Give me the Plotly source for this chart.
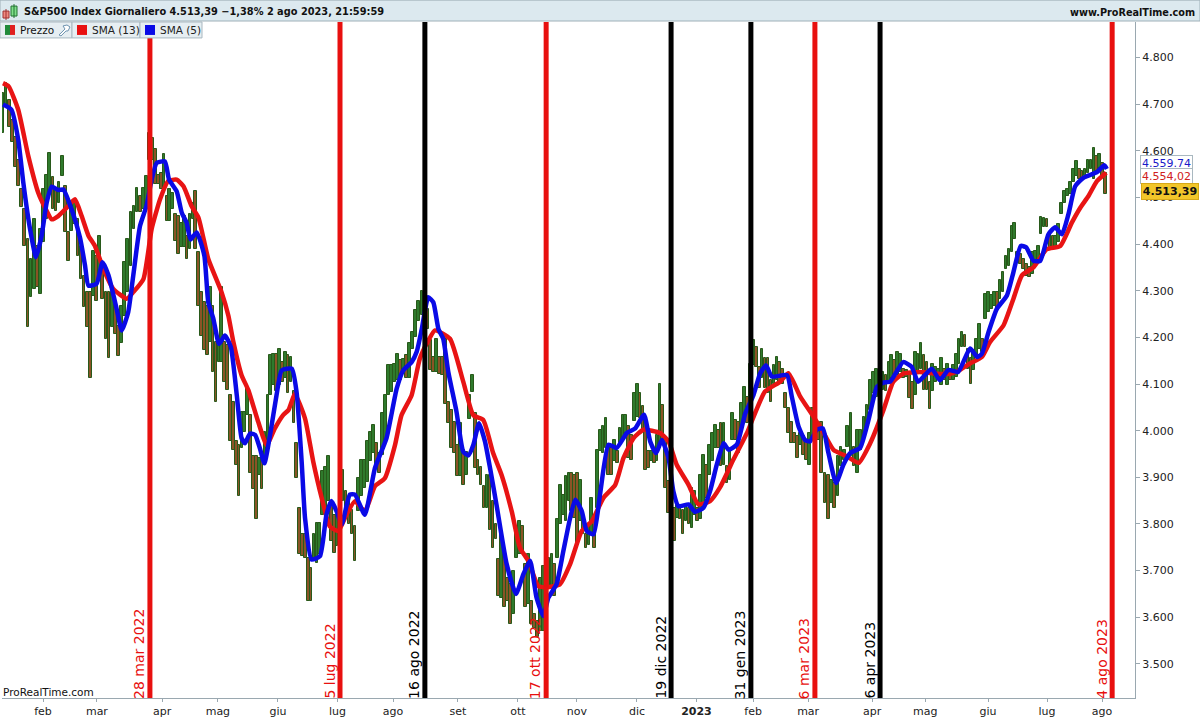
import numpy as np
import plotly.graph_objects as go

# Candle ranges, grouped between the marked dates
HIGH_A = [4724,4745,4709,4667,4630,4581,4517,4475,4411,4368,4453,4396,4432,4517,4549,4596,4543,4517,4532,4588,4524,4426,4489,4489,4453,4396,4332,4297,4297,4385,4374,4417,4353,4297,4297,4297,4268,4225,4268,4361,4411,4468,4481,4521,4502,4521,4545]
LOW_A = [4639,4694,4652,4618,4566,4524,4479,4396,4223,4287,4304,4308,4293,4404,4453,4511,4475,4470,4489,4545,4426,4364,4428,4443,4374,4325,4266,4223,4112,4289,4278,4325,4283,4197,4155,4223,4208,4161,4187,4246,4297,4353,4432,4468,4468,4475,4481]
HIGH_B = [4638,4627,4603,4549,4553,4592,4503,4517,4510,4464,4460,4446,4460,4418,4464,4489,4514,4382,4297,4275,4268,4307,4268,4190,4183,4307,4190,4183,4077,4062,3977,3970,4041,4041,4091,4034,3945,3945,3941,3955,3998,4077,4162,4165,4165,4176,4147,4169,4162,4158,4084,3973,3835,3778,3778,3728,3706,3778,3802,3802,3913,3923,3945,3849,3820,3820]
LOW_B = [4581,4581,4528,4528,4517,4514,4450,4450,4475,4407,4379,4393,4393,4368,4389,4453,4389,4268,4204,4172,4162,4190,4126,4062,4147,4147,4105,4087,3977,3959,3927,3860,3963,3998,4034,3909,3874,3810,3906,3874,3934,3977,4077,4098,4084,4098,4105,4112,4080,4105,4016,3899,3735,3731,3728,3635,3635,3721,3717,3735,3820,3827,3849,3763,3738,3753]
HIGH_C = [3870,3916,3870,3849,3831,3795,3898,3938,3938,3977,3998,4012,3973,3952,4037,4076,4140,4140,4144,4165,4151,4154,4162,4187,4212,4258,4279,4300]
LOW_C = [3799,3849,3820,3799,3778,3720,3827,3860,3877,3891,3934,3952,3927,3909,3948,3977,4076,4083,4105,4108,4108,4126,4112,4112,4176,4201,4236,4247]
HIGH_D = [4300,4261,4194,4158,4197,4158,4158,4197,4062,4044,4019,3970,4016,3959,3955,4076,4119,4037,3938,3923,3881,3905,3905,3849,3799,3724,3778,3735,3685,3671,3699,3792,3806,3795,3714,3735,3635,3607,3593,3685,3710]
LOW_D = [4254,4219,4130,4126,4126,4122,4119,4058,4016,3962,3952,3902,3902,3884,3905,4026,4083,3920,3905,3884,3835,3835,3788,3749,3767,3646,3642,3621,3635,3586,3607,3728,3735,3735,3621,3628,3586,3578,3557,3571,3571]
HIGH_E = [3760,3728,3735,3714,3810,3884,3863,3902,3909,3909,3906,3909,3895,3820,3778,3799,3856,3820,3959,4002,4009,4027,3970,3963,3980,3956,4005,4034,4034,4009,3991,4080,4101,4080,4052,4020,3956,3956,3952,3991,4101,4055,3984,3892]
LOW_E = [3671,3667,3664,3646,3728,3799,3820,3806,3849,3827,3813,3756,3806,3778,3749,3756,3778,3749,3835,3956,3952,3963,3906,3906,3934,3931,3970,3977,3995,3941,3938,4020,4030,4027,3998,3916,3920,3934,3931,3934,3963,3977,3877,3824]
HIGH_F = [3892,3835,3842,3838,3831,3838,3835,3877,3870,3835,3906,3948,3927,3970,3995,4012,4002,4016,4016,3924,3959,4037,4023,4019,4059,4094,4073]
LOW_F = [3792,3764,3813,3810,3778,3806,3799,3792,3820,3806,3810,3842,3856,3906,3934,3963,3963,3924,3927,3888,3895,3980,3980,3952,4002,4023,4016]
HIGH_G = [4144,4194,4180,4137,4176,4155,4155,4108,4140,4158,4148,4133,4080,4048,4019,3995,3988,3995,3988,3980,3995,4048]
LOW_G = [4073,4140,4137,4091,4112,4091,4080,4062,4101,4108,4101,4101,4048,3995,3973,3973,3941,3970,3948,3938,3927,3980]
HIGH_H = [4052,4009,4019,3909,3906,3895,3888,3945,3966,3959,4009,4037,3966,4002,4002,4030,4055,4108,4126,4133]
LOW_H = [3988,3980,3909,3845,3810,3845,3835,3860,3924,3938,3966,3945,3924,3909,3959,3980,4002,4044,4080,4073]
HIGH_I = [4105,4126,4119,4148,4162,4151,4169,4165,4133,4130,4119,4105,4169,4165,4187,4162,4148,4105,4144,4137,4133,4155,4133,4144,4130,4140,4165,4197,4212,4205,4176,4155,4169,4197,4229,4197,4293,4297,4290,4297,4297,4322,4340,4375,4389,4439,4446,4382,4379,4368,4357,4350,4382,4386,4396,4457,4455,4453,4425,4418,4418,4443,4489,4514,4517,4532,4560,4578,4560,4556,4560,4581,4581,4606,4588,4592,4574,4553]
LOW_I = [4091,4087,4084,4105,4112,4116,4119,4126,4112,4116,4069,4047,4076,4126,4133,4087,4087,4047,4084,4105,4109,4098,4109,4098,4109,4109,4116,4144,4180,4180,4133,4101,4130,4162,4176,4169,4240,4254,4261,4268,4261,4283,4297,4347,4354,4382,4411,4361,4357,4347,4332,4329,4336,4364,4368,4421,4436,4436,4389,4389,4393,4404,4464,4489,4503,4507,4532,4546,4539,4539,4546,4553,4560,4539,4556,4564,4546,4507]

SEGMENT_SESSIONS = [0, 52, 119.5, 149.6, 192.6, 237, 265, 288, 311, 392]

SMA5_SESSION = [0,3,5.4,7.2,9.6,11.7,13.7,15.5,17.3,19.6,21.4,24.3,27.3,29.1,30.3,33.2,35.3,37.4,40.3,42.1,44.4,46.2,48.6,50.9,52.7,54.5,57.4,58.9,61.6,63.4,65.1,66.5,68.7,71.4,72.8,74.6,76.6,78.7,80.8,82.9,84.6,85.8,87.6,89.4,91.1,92.7,94.7,97,98.8,102.4,104.1,105.9,107.1,109.4,112.4,114.7,116.5,118.3,120.1,123,124.8,128.3,131.9,136,139.6,141.9,144.9,146.7,148.5,150.8,152.6,154.4,156.1,157.9,160.8,163.2,165,166.8,168.8,170.9,172.7,175,178.6,181.9,184.5,186.9,189.2,191.6,193.4,196.3,198.7,201.1,202.9,205.2,207,209.4,211.7,214.7,217.6,221.2,224.2,227.3,229.5,231.6,233.6,236,237.7,239.5,243.1,245.4,248.4,250.7,253.1,255.5,257.3,260.2,263.2,266.1,268.5,270.6,272.6,278,279.7,282.1,284.4,286.2,288.6,290.7,292.7,295.4,298,300.4,303.9,306.9,309.9,312.2,314.6,319.2,322.2,324.5,329.3,332.2,335.2,338.7,342.9,345.5,347.1,349.5,352.4,356,358.3,360.9,362.8,365.4,367.8,370.7,373.1,375.5,377.8,380.2,383.1,387.9,390.5,391.4]
SMA5_PRICE = [4699,4688,4624,4532,4432,4372,4418,4489,4523,4516,4517,4475,4414,4354,4311,4315,4361,4333,4261,4215,4254,4333,4439,4482,4538,4574,4577,4538,4513,4467,4446,4410,4425,4375,4275,4240,4186,4204,4179,4076,3984,3973,3994,3991,3962,3930,3991,4076,4129,4133,4083,3934,3813,3724,3731,3820,3849,3827,3799,3863,3863,3820,3920,3984,4090,4129,4147,4169,4218,4286,4275,4218,4197,4126,4041,3955,3947,3970,4016,3977,3920,3841,3714,3650,3692,3721,3642,3603,3642,3671,3742,3813,3852,3828,3785,3778,3863,3970,3963,3995,4005,4034,3977,3952,3980,3941,3870,3838,3842,3826,3835,3870,3927,3973,3959,3970,4037,4076,4123,4140,4116,4119,4073,4009,3980,3977,4002,4005,3952,3888,3927,3952,3963,4023,4094,4103,4105,4147,4137,4105,4133,4108,4130,4126,4176,4158,4165,4212,4261,4290,4340,4396,4393,4364,4364,4421,4436,4421,4464,4524,4542,4554,4569,4561]

SMA13_SESSION = [0,2,5.4,9,12.5,14.9,17.3,19.6,22.6,25.5,27.9,30.3,32.6,35.6,39.1,43.9,46.2,49.8,52.7,55.7,58.6,61.6,64,66.9,69.3,72.8,77.5,79.9,81.7,84.6,87,90.5,93.5,96.4,99.4,101.2,103.5,107.1,110,113,115.9,118.9,121.8,124.8,128.3,131.9,135.4,139,141.3,144.9,147.8,150.8,153.2,158.5,163.2,166.8,170.3,173.8,176.8,180.4,183.3,186.3,189.8,192.8,197.5,201.1,205.2,208.8,212.9,217.1,220,223.6,227.1,233,236,238.9,243.1,246.6,250.7,254.3,259,263.8,270.2,275.6,278.5,282.7,287.4,291,294.5,299.2,303.4,307.5,312.2,315.7,319.2,325.1,331,335.8,339.3,342.9,347.1,350,354.8,358.3,361.3,365.4,370.1,374.9,379,382,384.9,387.9,391.2]
SMA13_PRICE = [4745,4738,4688,4588,4510,4478,4453,4460,4478,4496,4460,4418,4396,4347,4304,4283,4297,4325,4432,4496,4535,4538,4524,4481,4457,4368,4297,4247,4190,4119,4087,4019,3969,4005,4034,4044,4078,4026,3934,3856,3795,3785,3820,3849,3827,3881,3898,3969,4033,4076,4154,4193,4215,4197,4105,4033,4023,3952,3905,3827,3749,3721,3667,3664,3671,3714,3785,3806,3856,3884,3941,3984,4002,3995,3977,3927,3884,3842,3849,3879,3938,3995,4084,4105,4123,4073,4030,3995,3959,3945,3931,3973,4044,4105,4122,4126,4122,4122,4130,4144,4158,4190,4226,4283,4333,4350,4389,4396,4446,4478,4503,4535,4553]

EVENT_LABELS = ["28 mar 2022","5 lug 2022","16 ago 2022","17 ott 2022","19 dic 2022","31 gen 2023","6 mar 2023","6 apr 2023","4 ago 2023"]
EVENT_SESSIONS = [52.1,119.5,149.6,192.6,236.9,265.2,287.9,311,393.3]
EVENT_COLORS = ["#e8100f","#e8100f","#000000","#e8100f","#000000","#000000","#e8100f","#000000","#e8100f"]

MONTH_LABELS = ["feb","mar","apr","mag","giu","lug","ago","set","ott","nov","dic","<b>2023</b>","feb","mar","apr","mag","giu","lug","ago"]
MONTH_SESSIONS = [14.2,33.3,56.4,76.2,97.5,118.6,138.3,161.3,182.6,203.5,224.8,245.9,266,285.5,308.2,327,349.3,370.2,389.7]
PRICE_TICKS = [3500,3600,3700,3800,3900,4000,4100,4200,4300,4400,4500,4600,4700,4800]
PRICE_LABELS = ["3.500","3.600","3.700","3.800","3.900","4.000","4.100","4.200","4.300","4.400","4.500","4.600","4.700","4.800"]

W, H = 1200, 720
ML, MR, MT, MB = 2, 65, 22, 19
PW, PH = W - ML - MR, H - MT - MB
def px(v): return (v - ML) / PW
def py(v): return 1 - (v - MT) / PH

segments = [(HIGH_A,LOW_A),(HIGH_B,LOW_B),(HIGH_C,LOW_C),(HIGH_D,LOW_D),(HIGH_E,LOW_E),
            (HIGH_F,LOW_F),(HIGH_G,LOW_G),(HIGH_H,LOW_H),(HIGH_I,LOW_I)]
bx, bh, bl = [], [], []
for k, (hi, lo) in enumerate(segments):
    bx += list(np.linspace(SEGMENT_SESSIONS[k], SEGMENT_SESSIONS[k+1], len(hi), endpoint=False))
    bh += hi
    bl += lo
bh, bl = np.array(bh), np.array(bl)
mid = (bh + bl) / 2
falling = np.r_[False, mid[1:] < mid[:-1]]
colors = ["#8a5426" if f else "#2f7a2c" for f in falling]

fig = go.Figure()
fig.add_trace(go.Bar(x=bx, y=bh - bl, base=bl, width=0.95, marker=dict(color=colors, line=dict(color="#28591a", width=1)), showlegend=False, name="Prezzo"))
fig.add_trace(go.Scatter(x=SMA13_SESSION, y=SMA13_PRICE, mode="lines", line=dict(color="#e81414", width=4.5, shape="spline", smoothing=0.5), showlegend=False, name="SMA (13)"))
fig.add_trace(go.Scatter(x=SMA5_SESSION, y=SMA5_PRICE, mode="lines", line=dict(color="#0a0ae6", width=4.5, shape="spline", smoothing=0.5), showlegend=False, name="SMA (5)"))

shapes, ann = [], []
for s, c, lab in zip(EVENT_SESSIONS, EVENT_COLORS, EVENT_LABELS):
    shapes.append(dict(type="line", xref="x", yref="paper", x0=s, x1=s, y0=0, y1=1, line=dict(color=c, width=5), layer="above"))
    ann.append(dict(x=s, y=0, xref="x", yref="paper", text=lab, textangle=-90, showarrow=False, xanchor="right", yanchor="bottom",
                    xshift=-2, yshift=-2, borderpad=0, font=dict(family="DejaVu Sans", size=14, color=c)))

def rect(x0, y0, x1, y1, fill, line=None, w=1):
    shapes.append(dict(type="rect", xref="paper", yref="paper", x0=px(x0), x1=px(x1), y0=py(y0), y1=py(y1),
                       fillcolor=fill, line=dict(color=line or fill, width=w if line else 0), layer="above"))
def text(x, y, t, size=11, color="#111111", anchor="left", bold=False, fam="DejaVu Sans"):
    ann.append(dict(x=px(x), y=py(y), xref="paper", yref="paper", text=f"<b>{t}</b>" if bold else t, showarrow=False,
                    xanchor=anchor, yanchor="middle", font=dict(family=fam, size=size, color=color)))

# header band
rect(0, 0, 1200, 21, "#dce9ef", "#9fb0b8", 1)
rect(3, 11, 9, 18, "#f08a80", "#a03030", 1)
rect(11, 6, 17, 16, "#7fe08a", "#207030", 1)
shapes.append(dict(type="line", xref="paper", yref="paper", x0=px(6), x1=px(6), y0=py(9), y1=py(20), line=dict(color="#a03030", width=1), layer="above"))
shapes.append(dict(type="line", xref="paper", yref="paper", x0=px(14), x1=px(14), y0=py(4), y1=py(18), line=dict(color="#207030", width=1), layer="above"))
text(22, 11.5, "S&P500 Index Giornaliero 4.513,39 −1,38% 2 ago 2023, 21:59:59", size=9.8, bold=True)
text(1197, 12, "www.ProRealTime.com", size=9.7, anchor="right", bold=True)
# legend strip
rect(0, 22, 72, 38, "#e6eef2", "#a9b8c0", 1)
rect(72, 22, 140, 38, "#e6eef2", "#a9b8c0", 1)
rect(140, 22, 202, 38, "#e6eef2", "#a9b8c0", 1)
rect(5, 25, 10, 35, "#1f8a3a")
rect(10, 25, 15, 35, "#e02020")
shapes.append(dict(type="path", xref="paper", yref="paper",
                   path=f"M {px(59)} {py(35)} L {px(65)} {py(29)} L {px(63)} {py(26)} L {px(67)} {py(25)} L {px(70)} {py(27)} L {px(68)} {py(31)} L {px(66)} {py(31)} L {px(61)} {py(36)} Z",
                   fillcolor="#ffffff", line=dict(color="#6d93b0", width=1), layer="above"))
text(18, 30.5, "Prezzo", size=10.5)
rect(77, 25, 87, 35, "#e81010")
text(90, 30.5, "SMA (13)", size=10.5, color="#222222")
rect(145, 25, 155, 35, "#0a0ae6")
text(158, 30.5, "SMA (5)", size=10.5, color="#222222")
# watermark
text(1, 695, "ProRealTime.com", size=10.5)
# last-value boxes
ann.append(dict(x=px(1166.5), y=py(163.5), xref="paper", yref="paper", xanchor="center", yanchor="middle", text="4.559.74", showarrow=False, font=dict(family="DejaVu Sans", size=11, color="#1a1ac8"),
                bgcolor="#ffffff", bordercolor="#a9b8c0", borderwidth=1, borderpad=1, width=49, height=12))
ann.append(dict(x=px(1166.5), y=py(176.5), xref="paper", yref="paper", xanchor="center", yanchor="middle", text="4.554,02", showarrow=False, font=dict(family="DejaVu Sans", size=11, color="#d02020"),
                bgcolor="#ffffff", bordercolor="#a9b8c0", borderwidth=1, borderpad=1, width=49, height=12))
ann.append(dict(x=px(1169.5), y=py(192.5), xref="paper", yref="paper", xanchor="center", yanchor="middle", text="<b>4.513,39</b>", showarrow=False, font=dict(family="DejaVu Sans", size=11, color="#111111"),
                bgcolor="#f2c62a", bordercolor="#d6a818", borderwidth=1, borderpad=1, width=54, height=13))

fig.update_layout(
    width=W, height=H, margin=dict(l=ML, r=MR, t=MT, b=MB), paper_bgcolor="white", plot_bgcolor="white",
    barmode="overlay", bargap=0, showlegend=False, shapes=shapes, annotations=ann,
    xaxis=dict(range=[-0.35, 401.4], tickmode="array", tickvals=MONTH_SESSIONS, ticktext=MONTH_LABELS, showgrid=False, zeroline=False,
               ticks="outside", ticklen=3, tickcolor="#9aa8b0", tickfont=dict(family="DejaVu Sans", size=11, color="#222222"),
               showline=True, linecolor="#9aa8b0", linewidth=1, mirror=False),
    yaxis=dict(range=[3427, 4876], side="right", tickmode="array", tickvals=PRICE_TICKS, ticktext=PRICE_LABELS, showgrid=False, zeroline=False,
               ticks="outside", ticklen=4, tickcolor="#9aa8b0", tickfont=dict(family="DejaVu Sans", size=11, color="#222222"),
               showline=True, linecolor="#9aa8b0", linewidth=1),
)
fig.write_html("out.html", config=dict(displayModeBar=False), post_script="document.body.style.margin='0';")
